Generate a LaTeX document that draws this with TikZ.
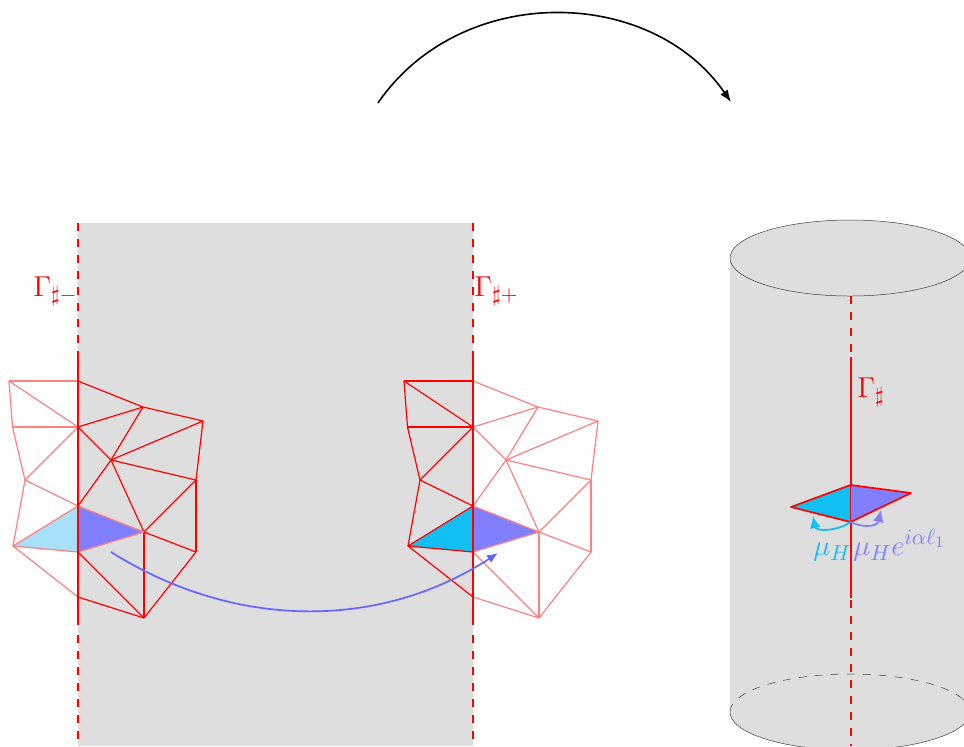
\documentclass[tikz,border=0pt]{standalone}
\usetikzlibrary{arrows.meta}
\definecolor{grayfill}{HTML}{DEDEDE}
\definecolor{softred}{HTML}{FF8080}
\definecolor{cyanfill}{HTML}{12BFF2}
\definecolor{palecyan}{HTML}{A8E0FA}
\definecolor{violetfill}{HTML}{8080FF}
\definecolor{bluearrow}{HTML}{6666FF}
\tikzset{
  redaxis/.style={red,line width=1pt},
  redaxisdash/.style={red,line width=1pt,dash pattern=on 4pt off 4pt},
  meshfull/.style={red,line width=0.6pt,line join=round},
  meshsoft/.style={softred,line width=0.6pt,line join=round},
  cylline/.style={black!75,line width=0.25pt},
  lab/.style={inner sep=0pt,anchor=base west,font=\fontsize{15.5}{18}\selectfont},
}
\begin{document}
\begin{tikzpicture}[x=0.5pt,y=-0.5pt]
\useasboundingbox (0,0) rectangle (964,746);
\clip (0,0) rectangle (964,746);
% named points of the two copies of the mesh
\foreach \n/\x/\y in {A/78/381,B/78/427,C/78/506,D/78/552,E/78/597,
  F/143/407,G/203/421,H/111/460,I/196/480,J/144/532,K/196/552,L/144/618,
  a/9/381,b/12.5/427,c/25/480,d/13/546}{
  \coordinate (l\n) at (\x,\y);
  \coordinate (r\n) at (\x+395,\y);
}
% strip
\fill[grayfill] (78,223) rectangle (473,746);
% cylinder
\coordinate (ct) at (850,258);
\coordinate (cb) at (850,712);
\fill[grayfill] (730,258) rectangle (970,712);
\fill[grayfill] (cb) ellipse [x radius=60pt,y radius=19pt];
\fill[grayfill] (ct) ellipse [x radius=60pt,y radius=19pt];
\draw[cylline] (ct) ellipse [x radius=60pt,y radius=19pt];
\draw[cylline] (cb) ++(168:60pt and 19pt) arc[start angle=168,end angle=380,x radius=60pt,y radius=19pt];
\draw[cylline,dash pattern=on 4pt off 4pt] (cb) ++(158:60pt and 19pt) arc[start angle=158,end angle=0,x radius=60pt,y radius=19pt];
% fills
\fill[palecyan] (ld) -- (lC) -- (lD) -- cycle;
\fill[violetfill] (lC) -- (lJ) -- (lD) -- cycle;
\fill[cyanfill] (rd) -- (rC) -- (rD) -- cycle;
\fill[violetfill] (rC) -- (rJ) -- (rD) -- cycle;
% soft halves
\foreach \p/\q in {a/A,a/B,a/b,b/B,b/c,c/B,c/C,c/d,d/C,d/D,d/E}{
  \draw[meshsoft] (l\p) -- (l\q);
}
\foreach \p/\q in {A/F,F/G,G/I,I/K,K/L,L/E,B/F,F/H,H/G,H/I,B/H,H/C,H/J,I/J,C/J,J/D,J/K,J/L,D/L}{
  \draw[meshsoft] (r\p) -- (r\q);
}
% full halves
\foreach \p/\q in {A/F,F/G,G/I,I/K,K/L,L/E,B/F,F/H,H/G,H/I,B/H,H/C,H/J,I/J,J/K,J/L,D/L}{
  \draw[meshfull] (l\p) -- (l\q);
}
\foreach \p/\q in {C/J,J/D}{
  \draw[meshsoft] (l\p) -- (l\q);
}
\foreach \p/\q in {a/A,a/B,a/b,b/B,b/c,c/B,c/C,c/d,d/C,d/D,d/E}{
  \draw[meshfull] (r\p) -- (r\q);
}
% axes
\coordinate (lt) at (78,223); \coordinate (ls) at (78,351); \coordinate (le) at (78,625); \coordinate (ld2) at (78,635); \coordinate (lb) at (78,746);
\coordinate (rt) at (473,223); \coordinate (rs) at (473,351); \coordinate (re) at (473,625); \coordinate (rd2) at (473,635); \coordinate (rb) at (473,746);
\coordinate (ca) at (850.5,296); \coordinate (cs) at (850.5,357); \coordinate (ce) at (850.5,598); \coordinate (cd2) at (850.5,600); \coordinate (cz) at (850.5,746);
\draw[redaxisdash] (lt) -- (ls);
\draw[redaxis] (ls) -- (le);
\draw[redaxisdash] (ld2) -- (lb);
\draw[redaxisdash] (rt) -- (rs);
\draw[redaxis] (rs) -- (re);
\draw[redaxisdash] (rd2) -- (rb);
\draw[redaxisdash] (ca) -- (cs);
\draw[redaxis] (cs) -- (ce);
\draw[redaxisdash] (cd2) -- (cz);
% quad on the cylinder
\coordinate (ql) at (791,507); \coordinate (qt) at (850.5,485);
\coordinate (qr) at (911,493); \coordinate (qb) at (850.5,522);
\fill[cyanfill] (ql) -- (qt) -- (qb) -- cycle;
\fill[violetfill] (qt) -- (qr) -- (qb) -- cycle;
\draw[red,line width=0.85pt,line join=round] (ql) -- (qt) -- (qr) -- (qb) -- cycle;
\draw[red,line width=0.85pt] (qt) -- (qb);
% small arrows
\coordinate (ac) at (813,516); \coordinate (av) at (881,510);
\draw[cyanfill,line width=0.9pt,-{Latex[length=6pt,width=5.5pt]}] (qb) .. controls (838,531) and (816,532) .. (ac);
\draw[violetfill,line width=0.9pt,-{Latex[length=6pt,width=5.5pt]}] (qb) .. controls (860,527) and (877,528) .. (av);
% big arrows
\coordinate (bs) at (111,552); \coordinate (be) at (498,553);
\draw[bluearrow,line width=0.85pt,-{Latex[length=5.5pt,width=4.5pt]}] (bs) .. controls (235,630) and (380,630) .. (be);
\coordinate (ts) at (378,103); \coordinate (te) at (731,102);
\draw[black,line width=0.8pt,-{Latex[length=6pt,width=4.5pt]}] (ts) .. controls (460,-17) and (650,-15) .. (te);
% labels
\node[lab,text=red] (g1) at (33,296) {$\Gamma_{\sharp-}$};
\node[lab,text=red] (g2) at (474,296) {$\Gamma_{\sharp+}$};
\node[lab,text=red] (g3) at (857,397) {$\Gamma_{\sharp}$};
\node[lab,text=cyanfill] (m1) at (813,555) {$\mu_H$};
\node[lab,text=violetfill] (m2) at (853,555) {$\mu_H e^{i\alpha\ell_1}$};
\end{tikzpicture}
\end{document}
